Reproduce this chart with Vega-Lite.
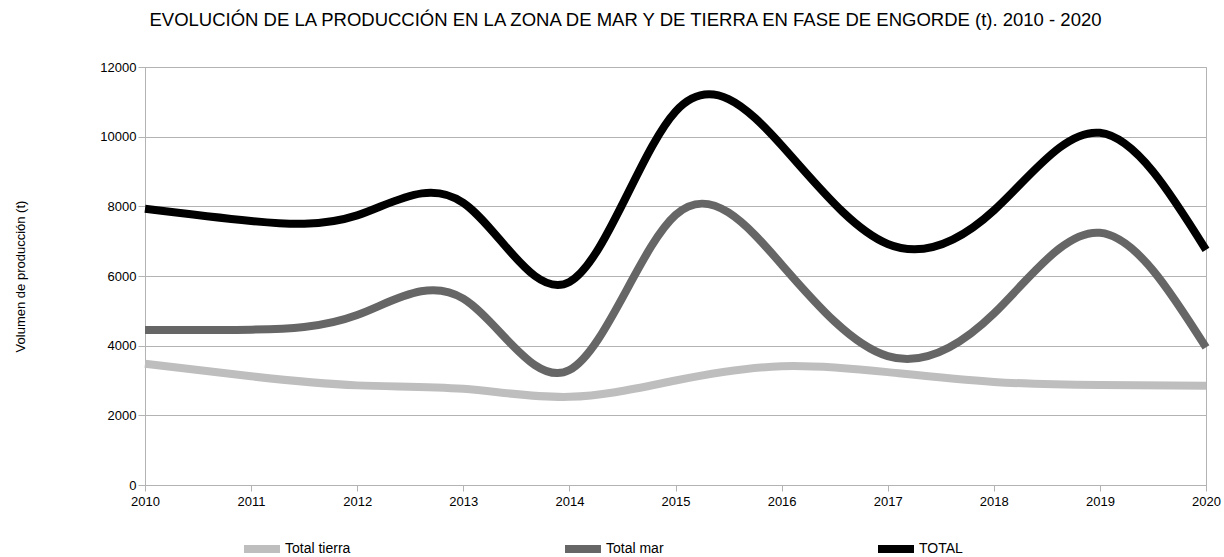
{
  "$schema": "https://vega.github.io/schema/vega-lite/v6.json",
  "width": 1061,
  "height": 418,
  "autosize": {"type": "none"},
  "padding": {"left": 145, "top": 67, "right": 18, "bottom": 72},
  "background": "white",
  "title": {
    "text": "EVOLUCIÓN DE LA PRODUCCIÓN EN LA ZONA DE MAR Y DE TIERRA  EN FASE DE ENGORDE (t). 2010 - 2020",
    "font": "Liberation Sans",
    "fontSize": 18.5,
    "fontWeight": "normal",
    "color": "black",
    "anchor": "middle",
    "frame": "group",
    "dx": -50,
    "offset": 32
  },
  "config": {
    "view": {"stroke": "#b3b3b3"},
    "font": "Liberation Sans"
  },
  "data": {
    "values": [
      {"year": "2010", "serie": "Total tierra", "value": 3480},
      {"year": "2011", "serie": "Total tierra", "value": 3120},
      {"year": "2012", "serie": "Total tierra", "value": 2860},
      {"year": "2013", "serie": "Total tierra", "value": 2760},
      {"year": "2014", "serie": "Total tierra", "value": 2530},
      {"year": "2015", "serie": "Total tierra", "value": 3000},
      {"year": "2016", "serie": "Total tierra", "value": 3410},
      {"year": "2017", "serie": "Total tierra", "value": 3240},
      {"year": "2018", "serie": "Total tierra", "value": 2960},
      {"year": "2019", "serie": "Total tierra", "value": 2870},
      {"year": "2020", "serie": "Total tierra", "value": 2850},
      {"year": "2010", "serie": "Total mar", "value": 4450},
      {"year": "2011", "serie": "Total mar", "value": 4460},
      {"year": "2012", "serie": "Total mar", "value": 4880},
      {"year": "2013", "serie": "Total mar", "value": 5350},
      {"year": "2014", "serie": "Total mar", "value": 3300},
      {"year": "2015", "serie": "Total mar", "value": 7750},
      {"year": "2016", "serie": "Total mar", "value": 6330},
      {"year": "2017", "serie": "Total mar", "value": 3700},
      {"year": "2018", "serie": "Total mar", "value": 4920},
      {"year": "2019", "serie": "Total mar", "value": 7240},
      {"year": "2020", "serie": "Total mar", "value": 3950},
      {"year": "2010", "serie": "TOTAL", "value": 7930},
      {"year": "2011", "serie": "TOTAL", "value": 7580},
      {"year": "2012", "serie": "TOTAL", "value": 7740},
      {"year": "2013", "serie": "TOTAL", "value": 8100},
      {"year": "2014", "serie": "TOTAL", "value": 5830},
      {"year": "2015", "serie": "TOTAL", "value": 10720},
      {"year": "2016", "serie": "TOTAL", "value": 9750},
      {"year": "2017", "serie": "TOTAL", "value": 6920},
      {"year": "2018", "serie": "TOTAL", "value": 7880},
      {"year": "2019", "serie": "TOTAL", "value": 10110},
      {"year": "2020", "serie": "TOTAL", "value": 6750}
    ]
  },
  "mark": {"type": "line", "interpolate": "natural", "strokeWidth": 8, "strokeCap": "butt", "strokeJoin": "round"},
  "encoding": {
    "x": {
      "field": "year",
      "type": "ordinal",
      "scale": {"type": "point", "padding": 0},
      "axis": {
        "title": null,
        "labelAngle": 0,
        "labelFont": "Liberation Sans",
        "labelFontSize": 13,
        "labelColor": "black",
        "labelPadding": 4,
        "tickSize": 6,
        "tickColor": "#b3b3b3",
        "domainColor": "#b3b3b3",
        "grid": false
      }
    },
    "y": {
      "field": "value",
      "type": "quantitative",
      "scale": {"domain": [0, 12000], "nice": false},
      "axis": {
        "values": [0, 2000, 4000, 6000, 8000, 10000, 12000],
        "format": "d",
        "title": "Volumen de producción (t)",
        "titleFont": "Liberation Sans",
        "titleFontSize": 13,
        "titleFontWeight": "normal",
        "titleColor": "black",
        "titleAngle": -90,
        "titleX": -125,
        "titleY": 209,
        "titleAlign": "center",
        "titleBaseline": "middle",
        "labelFont": "Liberation Sans",
        "labelFontSize": 13,
        "labelColor": "black",
        "labelPadding": 2,
        "tickSize": 7,
        "tickColor": "#b3b3b3",
        "domainColor": "#b3b3b3",
        "gridColor": "#b3b3b3",
        "gridOpacity": 1
      }
    },
    "color": {
      "field": "serie",
      "type": "nominal",
      "scale": {"domain": ["Total tierra", "Total mar", "TOTAL"], "range": ["#bebebe", "#666666", "#000000"]},
      "legend": {
        "title": null,
        "orient": "none",
        "direction": "horizontal",
        "legendX": 95,
        "legendY": 460,
        "columnPadding": 198,
        "symbolType": "stroke",
        "symbolSize": 1296,
        "symbolStrokeWidth": 8,
        "labelFont": "Liberation Sans",
        "labelFontSize": 14,
        "labelColor": "black",
        "labelOffset": 1
      }
    }
  }
}
